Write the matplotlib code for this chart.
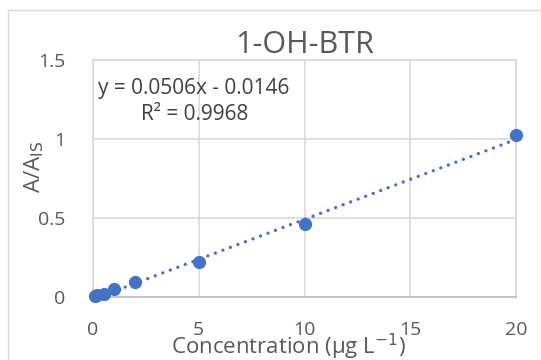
import numpy as np
import matplotlib.pyplot as plt
from matplotlib.patches import Rectangle

# calibration data
conc = [0.1, 0.2, 0.5, 1, 2, 5, 10, 20]
ratio = [0.005, 0.012, 0.022, 0.05, 0.098, 0.22, 0.46, 1.028]
slope, intercept = 0.0506, -0.0146
xticks = [0, 5, 10, 15, 20]
yticks = [0, 0.5, 1, 1.5]
ytick_labels = ['0', '0.5', '1', '1.5']

grey = '#595959'
blue = '#4472C4'
plt.rcParams['font.family'] = ['Open Sans', 'DejaVu Sans']

fig = plt.figure(figsize=(5.41, 3.60), dpi=100)
fig.patches.append(Rectangle((8 / 541, -0.1), 1.2, 1 - 10 / 360 + 0.1,
                             transform=fig.transFigure, fill=False,
                             edgecolor='#d9d9d9', linewidth=1))
ax = fig.add_axes([93 / 541, 1 - 297 / 360, 423 / 541, 237 / 360])

xfit = np.array([conc[0], conc[-1]])
ax.plot(xfit, slope * xfit + intercept, linestyle=(0, (0.01, 2.4)),
        dash_capstyle='round', color=blue, linewidth=2.4, zorder=2)
ax.plot(conc, ratio, 'o', color=blue, markersize=8.5, zorder=3, clip_on=False)

ax.set_xlim(0, 20)
ax.set_ylim(0, 1.5)
ax.set_xticks(xticks)
ax.set_yticks(yticks)
ax.set_yticklabels(ytick_labels)
ax.tick_params(length=0, labelsize=14, labelcolor=grey)
ax.tick_params(axis='x', pad=17)
ax.tick_params(axis='y', pad=20)
ax.grid(True, color='#d9d9d9', linewidth=1.2)
ax.set_axisbelow(True)
for s in ax.spines.values():
    s.set_color('#d9d9d9')
    s.set_linewidth(1.2)
ax.spines['bottom'].set_color('#bfbfbf')

ax.set_title('1-OH-BTR', fontsize=22, color=grey, pad=2)
ax.set_xlabel('Concentration (μg L$^{-1}$)', fontsize=16, color=grey)
ax.set_ylabel('A/A$_{\\mathrm{IS}}$', fontsize=16, color=grey)
ax.xaxis.set_label_coords(0.463, -0.145)
ax.yaxis.set_label_coords(-0.11, 0.55)

ax.text(0.012, 0.88, 'y = 0.0506x - 0.0146', transform=ax.transAxes,
        fontsize=15, color='#404040', va='center')
ax.text(0.24, 0.77, 'R² = 0.9968', transform=ax.transAxes,
        fontsize=15, color='#404040', va='center', ha='center')

fig.savefig('out.png', dpi=100)
